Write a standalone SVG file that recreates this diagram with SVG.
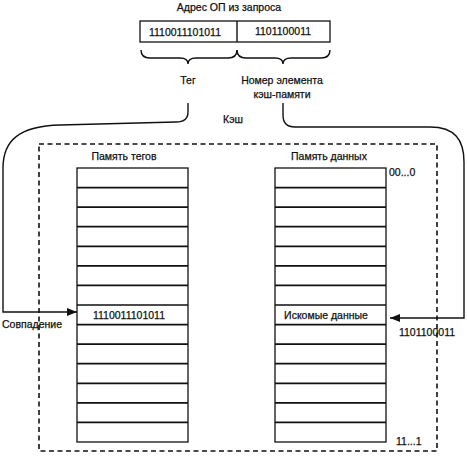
<svg xmlns="http://www.w3.org/2000/svg" width="467" height="456" viewBox="0 0 467 456">
<style>
text{font-family:"Liberation Sans",Arial,sans-serif;font-size:10.5px;fill:#111;stroke:#111;stroke-width:0.25}
.box{fill:#fff;stroke:#111;stroke-width:1.3}
.row{stroke:#111;stroke-width:1.7}
.ln{fill:none;stroke:#111;stroke-width:1.4}
.dash{fill:none;stroke:#111;stroke-width:1.6;stroke-dasharray:5,3.5}
</style>
<defs>
<marker id="ah" viewBox="0 0 10 8" refX="10" refY="4" markerWidth="10" markerHeight="8" markerUnits="userSpaceOnUse" orient="auto">
<path d="M0,0 L10,4 L0,8 Z" fill="#111"/>
</marker>
</defs>
<rect width="467" height="456" fill="#fff"/>

<g id="address">
<text x="229" y="11" text-anchor="middle">Адрес ОП из запроса</text>
<rect class="box" x="140" y="21" width="190" height="21"/>
<line class="ln" x1="237" y1="21" x2="237" y2="42"/>
<text x="185" y="35.5" text-anchor="middle">1110011101011</text>
<text x="283" y="35" text-anchor="middle">1101100011</text>
</g>

<g id="braces">
<path class="ln" d="M141,50 Q141,58 150,58 H180 Q188,58 188,64 Q188,58 196,58 H228 Q237,58 237,50"/>
<path class="ln" d="M237,50 Q237,58 246,58 H275 Q283,58 283,64 Q283,58 291,58 H321 Q330,58 330,50"/>
</g>

<g id="tag-label"><text x="188" y="84" text-anchor="middle">Тег</text></g>
<g id="index-label">
<text x="282" y="84" text-anchor="middle">Номер элемента</text>
<text x="282" y="98" text-anchor="middle">кэш-памяти</text>
</g>

<g id="cache">
<text x="233" y="123" text-anchor="middle">Кэш</text>
<rect class="dash" x="39" y="144" width="398" height="307"/>
</g>

<g id="tag-memory">
<text x="124" y="160" text-anchor="middle">Память тегов</text>
<rect class="box" x="77" y="168" width="111" height="274" stroke-width="1.7"/>
<path class="row" d="M77,187.6H188M77,207.1H188M77,226.7H188M77,246.3H188M77,265.9H188M77,285.4H188M77,305H188M77,324.6H188M77,344.1H188M77,363.7H188M77,383.3H188M77,402.9H188M77,422.4H188"/>
<text x="129" y="318.5" text-anchor="middle">1110011101011</text>
</g>

<g id="data-memory">
<text x="329" y="160" text-anchor="middle">Память данных</text>
<rect class="box" x="275" y="168" width="111" height="274" stroke-width="1.7"/>
<path class="row" d="M275,187.6H386M275,207.1H386M275,226.7H386M275,246.3H386M275,265.9H386M275,285.4H386M275,305H386M275,324.6H386M275,344.1H386M275,363.7H386M275,383.3H386M275,402.9H386M275,422.4H386"/>
<text x="326" y="318.5" text-anchor="middle">Искомые данные</text>
<text x="389" y="176">00...0</text>
<text x="396" y="445">11...1</text>
</g>

<g id="connectors">
<path class="ln" d="M188,103 V112 Q188,122 176,122 L60,125 C20,126 3,140 3,168 V312 H77" marker-end="url(#ah)"/>
<path class="ln" d="M283,103 V115 Q283,127 295,127 H430 C455,127 464,140 464,162 V318 H390" marker-end="url(#ah)"/>
</g>

<g id="labels">
<text x="2" y="328">Совпадение</text>
<text x="427" y="336" text-anchor="middle">1101100011</text>
</g>
</svg>
